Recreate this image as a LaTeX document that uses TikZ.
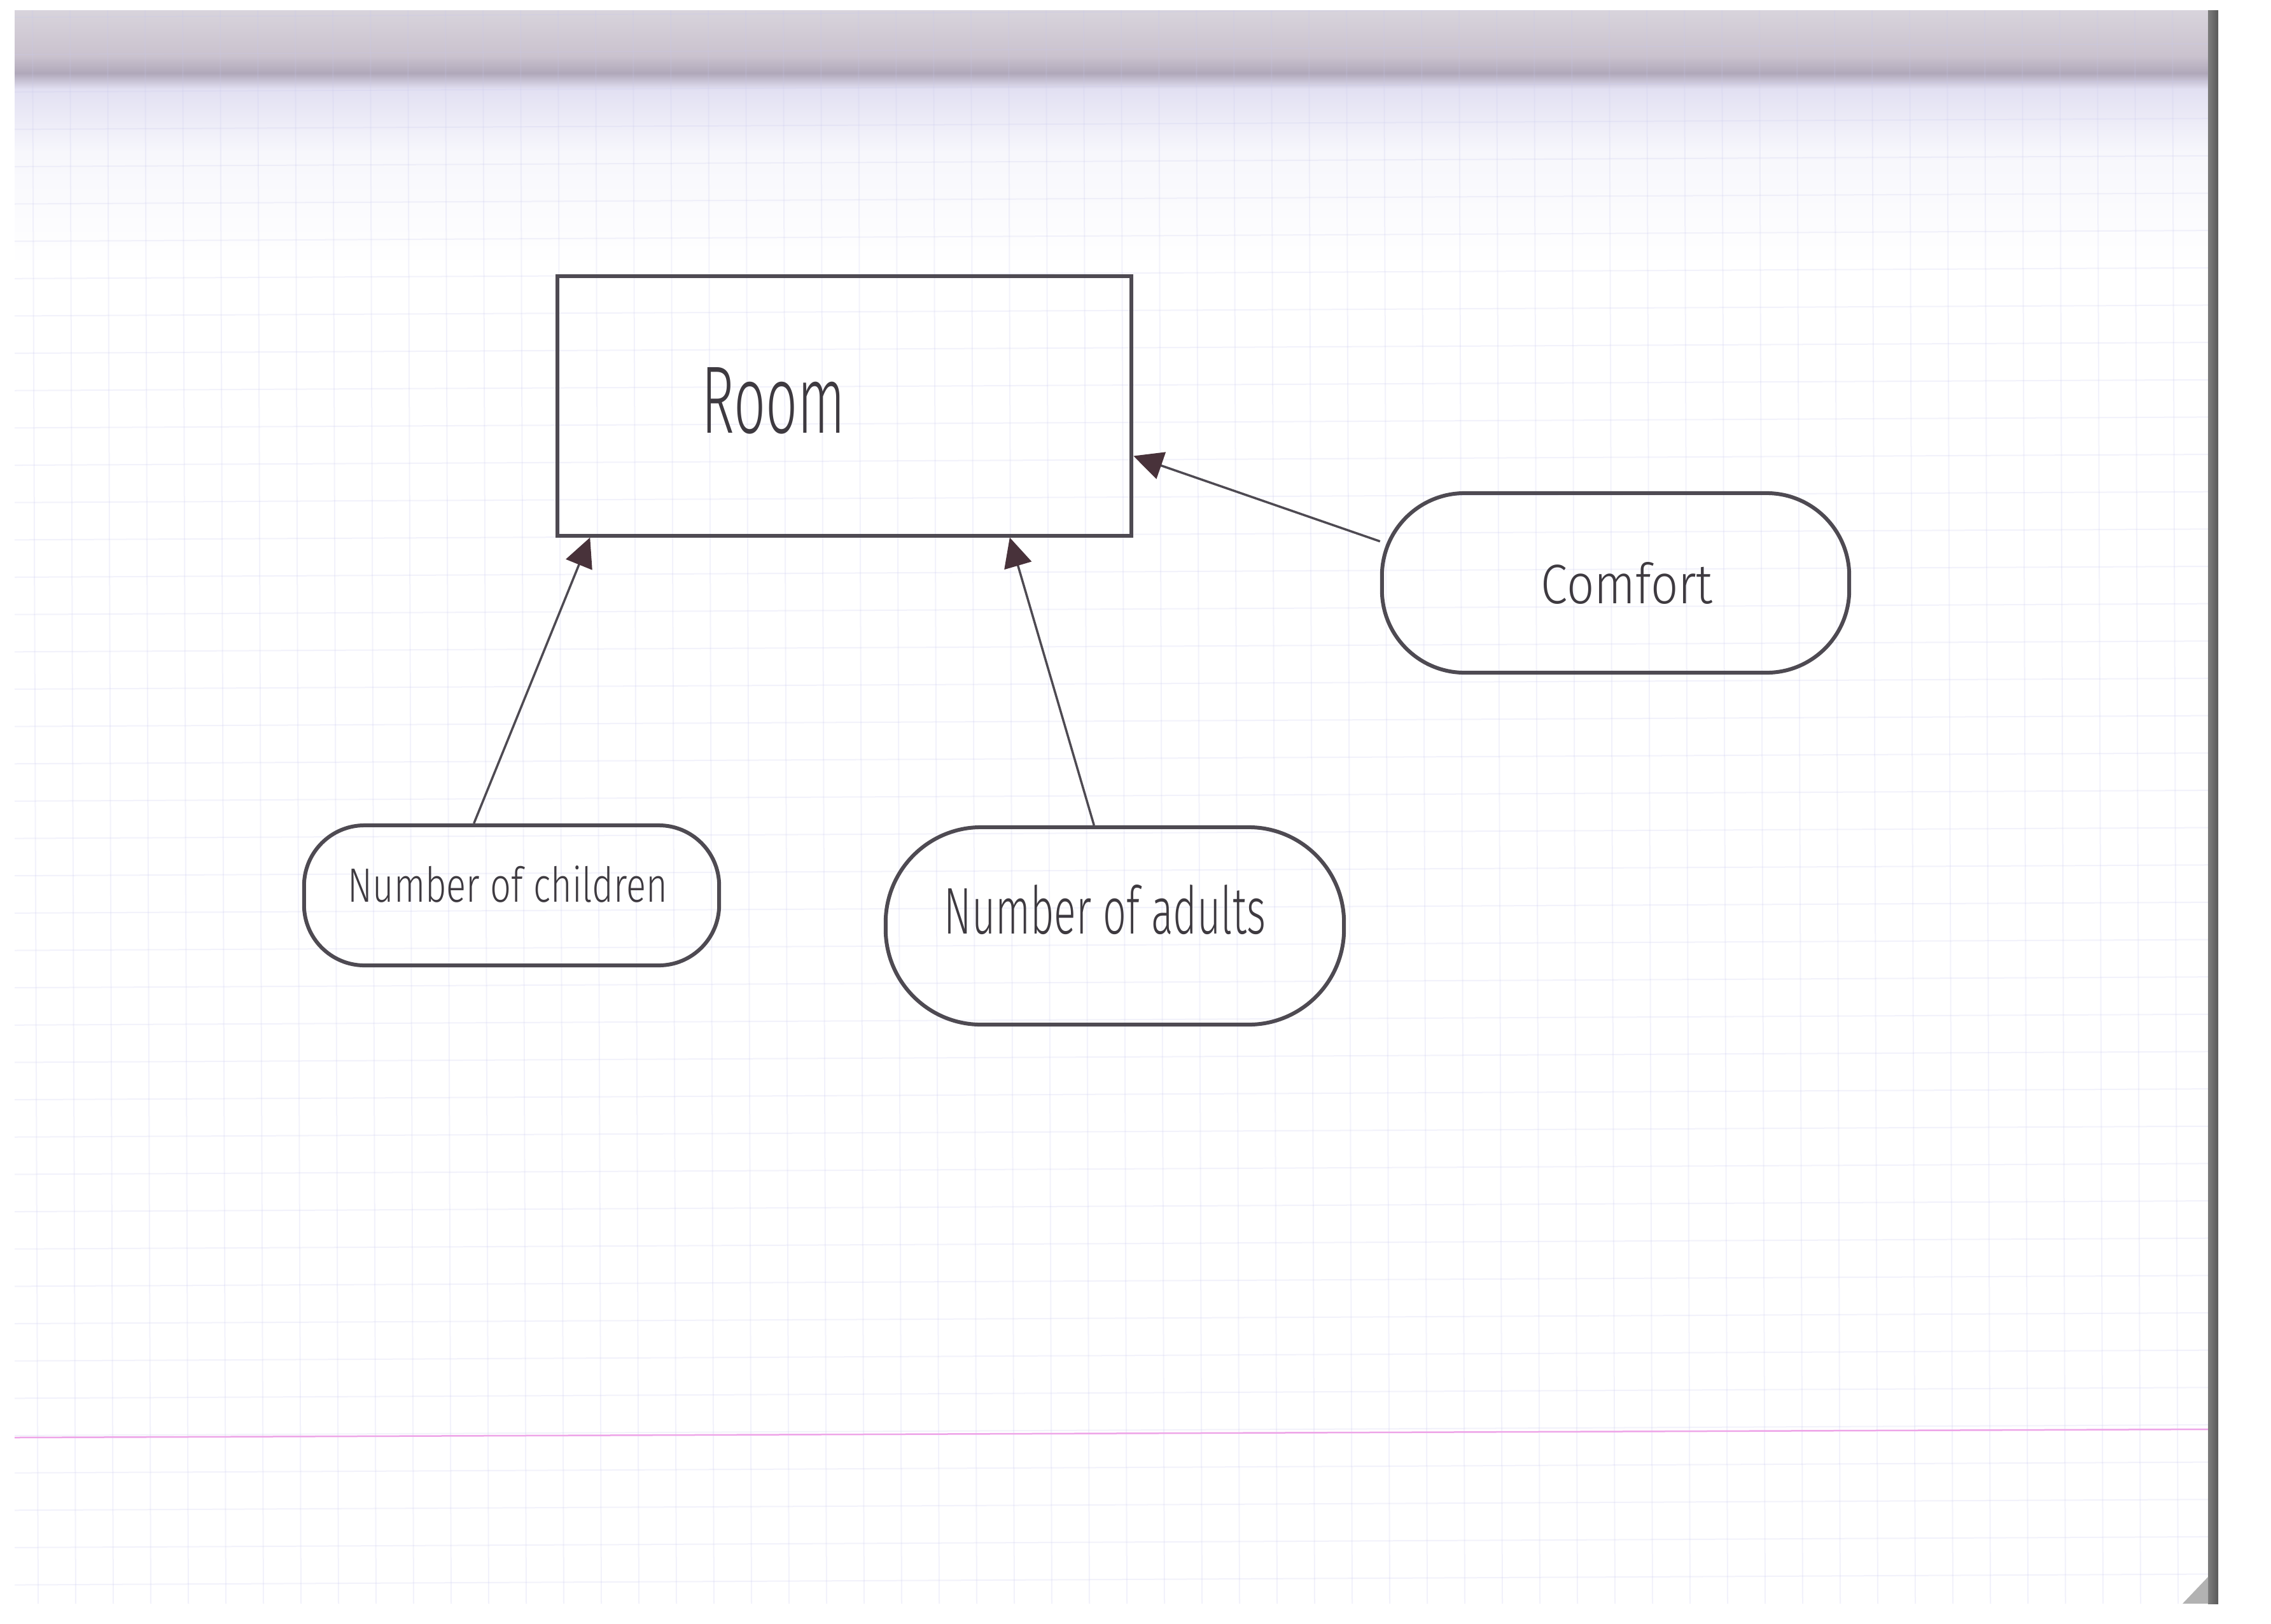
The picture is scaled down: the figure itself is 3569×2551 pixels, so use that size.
\documentclass[tikz,border=0pt]{standalone}
\usepackage{fontspec}
\setmainfont{Fira Sans Light}
\usetikzlibrary{arrows.meta,calc}
\definecolor{ink}{RGB}{78,74,82}
\definecolor{textink}{RGB}{62,58,64}
\definecolor{tipink}{RGB}{72,50,58}
\definecolor{gridc}{RGB}{200,200,238}
\definecolor{pinkline}{RGB}{238,165,232}
\definecolor{stripL}{RGB}{125,125,125}
\definecolor{stripR}{RGB}{88,88,88}
\definecolor{fold}{RGB}{178,178,178}
\definecolor{shA}{RGB}{216,212,220}
\definecolor{shB}{RGB}{202,194,206}
\definecolor{shC}{RGB}{176,168,186}
\definecolor{shD}{RGB}{226,224,242}
\definecolor{shE}{RGB}{247,247,252}
\begin{document}
\begin{tikzpicture}[x=0.01cm,y=-0.01cm,
  shapebox/.style={draw=ink,line width=0.06cm,inner sep=0pt},
  bubble/.style={shapebox,rounded corners=#1},
  lbl/.style={anchor=base west,inner sep=0pt,text=textink},
  conn/.style={draw=ink,line width=0.035cm,-{Triangle[length=0.46cm,width=0.44cm,color=tipink]}},
  gridline/.style={draw=gridc,line width=0.02cm,opacity=0.22}]

% page and paper
\fill[white] (0,0) rectangle (3569,2551);
\useasboundingbox (0,0) rectangle (3569,2551);
\shade[top color=shA,bottom color=shB] (23,16) rectangle (3470,88);
\shade[top color=shB,bottom color=shC] (23,88) rectangle (3470,115);
\shade[top color=shC,bottom color=shD] (23,115) rectangle (3470,140);
\shade[top color=shD,bottom color=shE] (23,140) rectangle (3470,240);
\shade[top color=shE,bottom color=white] (23,240) rectangle (3470,420);
\begin{scope}
  \clip (23,16) rectangle (3470,2520);
  \foreach \k in {0,...,57} {
    \draw[gridline] ({51+59*\k},16) -- ({60+59*\k},2520);
  }
  \foreach \j in {-15,...,27} {
    \draw[gridline] (23,{907+58.65*\j}) -- (3470,{907+58.65*\j-17});
  }
\end{scope}
\draw[pinkline,line width=0.025cm] (23,2259) -- (3470,2246);
\shade[left color=stripL,right color=stripR] (3470,16) rectangle (3486,2520);
\fill[fold] (3430,2520) -- (3470,2478) -- (3470,2520) -- cycle;

% diagram
\node[shapebox,minimum width=9.02cm,minimum height=4.07cm] (room) at (1327,638) {};
\node[lbl] (roomtext) at (1102,680) {\resizebox{2.26cm}{1.03cm}{Room}};

\node[bubble=0.95cm,minimum width=6.52cm,minimum height=2.2cm] (children) at (804,1407) {};
\node[lbl] (childrentext) at (546,1417) {\resizebox{5.02cm}{0.57cm}{Number of children}};

\node[bubble=1.5cm,minimum width=7.2cm,minimum height=3.1cm] (adults) at (1752,1455) {};
\node[lbl] (adultstext) at (1483,1467) {\resizebox{5.05cm}{0.77cm}{Number of adults}};

\node[bubble=1.3cm,minimum width=7.34cm,minimum height=2.82cm] (comfort) at (2539,916) {};
\node[lbl] (comforttext) at (2421,948) {\resizebox{2.70cm}{0.65cm}{Comfort}};

\draw[conn] ($(children.north west)!0.41!(children.north east)$) -- ($(room.south west)!0.06!(room.south east)$);
\draw[conn] ($(adults.north west)!0.455!(adults.north east)$) -- ($(room.south west)!0.786!(room.south east)$);
\draw[conn] (comfort.170) -- ($(room.north east)!0.69!(room.south east)$);
\end{tikzpicture}
\end{document}
